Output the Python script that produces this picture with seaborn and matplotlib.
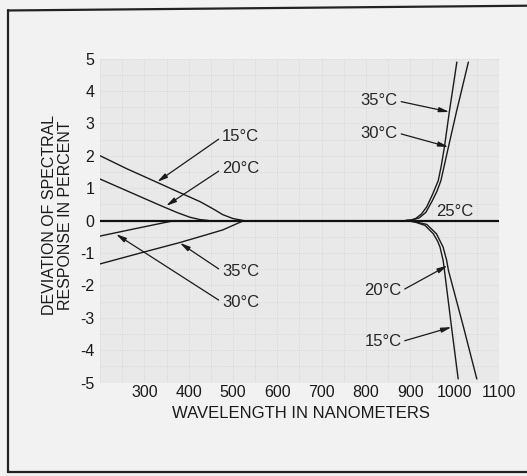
import matplotlib as mpl
mpl.use('Agg')
import matplotlib.pyplot as plt
from matplotlib.ticker import MultipleLocator
import seaborn as sns
import pandas as pd

# temperature deviation curves (nm, percent)
nm_15_uv = [200, 260, 330, 380, 426, 455, 477, 500, 523]
dev_15_uv = [2.0, 1.6, 1.17, 0.86, 0.58, 0.36, 0.18, 0.06, 0.0]
nm_20_uv = [200, 260, 310, 342, 375, 403, 425, 445]
dev_20_uv = [1.28, 0.92, 0.62, 0.43, 0.24, 0.10, 0.03, 0.0]
nm_30_uv = [200, 280, 340, 370]
dev_30_uv = [-0.48, -0.25, -0.08, 0.0]
nm_35_uv = [200, 300, 380, 440, 477, 505, 525]
dev_35_uv = [-1.34, -0.97, -0.68, -0.44, -0.29, -0.12, 0.0]

nm_35_ir = [890, 900, 912, 925, 937, 950, 963, 970, 977, 988, 1005]
dev_35_ir = [0.0, 0.01, 0.06, 0.2, 0.42, 0.8, 1.23, 1.7, 2.27, 3.35, 4.89]
nm_30_ir = [890, 905, 920, 935, 950, 960, 969, 986, 1004, 1031]
dev_30_ir = [0.0, 0.02, 0.08, 0.25, 0.62, 0.9, 1.23, 2.27, 3.35, 4.89]
nm_15_ir = [890, 911, 933, 952, 962, 967, 974, 977, 993, 1008]
dev_15_ir = [0.0, -0.05, -0.15, -0.41, -0.65, -0.82, -1.23, -1.54, -3.29, -4.89]
nm_20_ir = [890, 911, 937, 959, 974, 982, 986, 1020, 1050]
dev_20_ir = [0.0, -0.04, -0.12, -0.41, -0.82, -1.23, -1.54, -3.29, -4.89]

nm_25 = [200, 1100]
dev_25 = [0.0, 0.0]

x_ticks = [300, 400, 500, 600, 700, 800, 900, 1000, 1100]
y_ticks = [-5, -4, -3, -2, -1, 0, 1, 2, 3, 4, 5]

segments = [
	(nm_15_uv, dev_15_uv), (nm_20_uv, dev_20_uv),
	(nm_30_uv, dev_30_uv), (nm_35_uv, dev_35_uv),
	(nm_35_ir, dev_35_ir), (nm_30_ir, dev_30_ir),
	(nm_15_ir, dev_15_ir), (nm_20_ir, dev_20_ir),
]

sns.set_style('white')
plt.rcParams['font.family'] = ['Liberation Sans', 'DejaVu Sans']

fig = plt.figure(figsize=(5.27, 4.76), dpi=100, facecolor='#f2f2f2')
ax = fig.add_axes([0.1898, 0.1964, 0.757, 0.6807])
ax.set_facecolor('#e9e9e9')

for xs, ys in segments:
	df = pd.DataFrame({'nm': xs, 'dev': ys})
	sns.lineplot(data=df, x='nm', y='dev', ax=ax, color='#1a1a1a', lw=1.0, sort=False)
sns.lineplot(x=nm_25, y=dev_25, ax=ax, color='#111111', lw=1.6)

ax.set_xlim(200, 1100)
ax.set_ylim(-5, 5)
ax.set_xticks(x_ticks)
ax.set_yticks(y_ticks)
ax.set_xticklabels([str(v) for v in x_ticks])
ax.set_yticklabels([str(v) for v in y_ticks])
ax.tick_params(axis='both', length=0, labelsize=11.5, colors='#1a1a1a')
ax.tick_params(axis='y', pad=4)
ax.tick_params(axis='x', pad=2)

ax.xaxis.set_minor_locator(MultipleLocator(50))
ax.yaxis.set_minor_locator(MultipleLocator(0.5))
ax.grid(which='both', color='#d2d2d2', lw=0.6, ls=':')
for s in ax.spines.values():
	s.set_visible(False)

ax.set_xlabel('WAVELENGTH IN NANOMETERS', fontsize=12, color='#1a1a1a')
ax.xaxis.set_label_coords(0.504, -0.072)
ax.set_ylabel('DEVIATION OF SPECTRAL\nRESPONSE IN PERCENT', fontsize=11.5,
	color='#1a1a1a', linespacing=1.1)
ax.yaxis.set_label_coords(-0.068, 0.517)

arrow = dict(arrowstyle='-|>,head_length=0.5,head_width=0.12', color='#1a1a1a',
	lw=0.9, shrinkA=0, shrinkB=0)

# left side labels, arrows leave from the left edge of the text
for txt, tip, pos in [
	('15°C', (329, 1.19), (475, 2.58)),
	('20°C', (349, 0.45), (475, 1.59)),
	('35°C', (380, -0.69), (475, -1.56)),
	('30°C', (236, -0.42), (475, -2.52)),
]:
	ax.annotate(txt, xy=tip, xytext=pos, ha='left', va='center', fontsize=12,
		arrowprops=dict(arrow, relpos=(0, 0.5)))

# right side labels, arrows leave from the right edge of the text
for txt, tip, pos in [
	('35°C', (988, 3.35), (872, 3.69)),
	('30°C', (986, 2.27), (872, 2.70)),
	('20°C', (984, -1.39), (880, -2.17)),
	('15°C', (993, -3.29), (880, -3.74)),
]:
	ax.annotate(txt, xy=tip, xytext=pos, ha='right', va='center', fontsize=12,
		arrowprops=dict(arrow, relpos=(1, 0.5)))

ax.text(1000, 0.06, '25°C', ha='center', va='bottom', fontsize=12)

# page frame of the scan
fig.add_artist(plt.Line2D([0.0152, 0.0152], [0.008, 0.978], color='#222222', lw=1.6))
fig.add_artist(plt.Line2D([0.0152, 1.0], [0.978, 0.988], color='#222222', lw=1.6))
fig.add_artist(plt.Line2D([0.0152, 1.0], [0.008, 0.008], color='#222222', lw=1.6))

fig.savefig('out.png', dpi=100, facecolor=fig.get_facecolor())
